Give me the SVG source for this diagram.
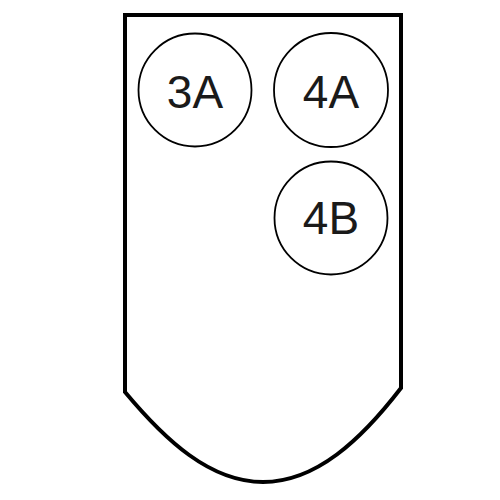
<svg xmlns="http://www.w3.org/2000/svg" width="500" height="500" viewBox="0 0 500 500">
<style>
.outline{fill:#fff;stroke:#000;stroke-width:4;stroke-linejoin:miter}
.node circle{fill:#fff;stroke:#000;stroke-width:1.8}
.node text{font-family:"Liberation Sans",Arial,sans-serif;font-size:46px;fill:#1a1a1a;text-anchor:middle}
</style>
<rect width="500" height="500" fill="#fff"/>
<path id="outline" class="outline" d="M125 392 L125 15 L401 15 L401 388 C361 440 316 482 263 482 C210 482 165 440 125 392 Z"/>
<g id="connectors"></g>
<g id="n3A" class="node"><circle cx="195" cy="90" r="56.5"/><text x="195" y="108">3A</text></g>
<g id="n4A" class="node"><circle cx="331" cy="90" r="57"/><text x="331" y="108">4A</text></g>
<g id="n4B" class="node"><circle cx="331" cy="218" r="56.5"/><text x="331" y="234">4B</text></g>
</svg>
